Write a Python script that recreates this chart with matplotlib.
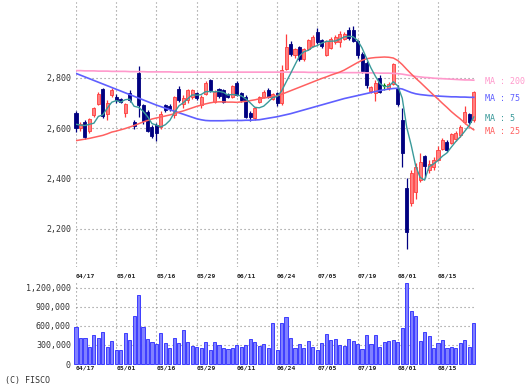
import numpy as np
import matplotlib
matplotlib.use('Agg')
import matplotlib.pyplot as plt

# ---------------- data ----------------
tick_idx = [0, 9, 18, 27, 36, 45, 54, 63, 72, 81]
tick_labels = ['04/17', '05/01', '05/16', '05/29', '06/11',
               '06/24', '07/05', '07/19', '08/01', '08/15']

opens = [2660, 2600, 2625, 2590, 2650, 2695, 2755, 2655, 2730, 2725,
         2715, 2660, 2740, 2625, 2818, 2690, 2665, 2605, 2612, 2605,
         2690, 2688, 2651, 2757, 2695, 2710, 2725, 2740, 2690, 2735,
         2790, 2705, 2755, 2750, 2735, 2725, 2778, 2740, 2725, 2660,
         2640, 2705, 2725, 2752, 2715, 2740, 2700, 2835, 2932, 2890,
         2920, 2875, 2915, 2925, 2980, 2950, 2890, 2918, 2940, 2940,
         2955, 2990, 2988, 2945, 2895, 2860, 2748, 2740, 2800, 2765,
         2760, 2775, 2760, 2632, 2362, 2302, 2345, 2395, 2490, 2435,
         2445, 2472, 2518, 2546, 2542, 2556, 2572, 2625, 2654, 2632]
highs = [2668, 2625, 2630, 2640, 2685, 2742, 2760, 2710, 2758, 2735,
         2720, 2700, 2750, 2630, 2848, 2695, 2670, 2612, 2620, 2668,
         2697, 2695, 2728, 2765, 2730, 2755, 2756, 2745, 2730, 2785,
         2795, 2750, 2760, 2755, 2740, 2770, 2785, 2745, 2730, 2668,
         2685, 2728, 2752, 2760, 2740, 2745, 2850, 2972, 2945, 2918,
         2925, 2918, 2955, 2970, 2998, 2955, 2950, 2960, 2968, 2985,
         2980, 3000, 3005, 2950, 2900, 2865, 2768, 2790, 2810, 2780,
         2782, 2860, 2772, 2680, 2400, 2435, 2460, 2500, 2495, 2475,
         2485, 2530, 2560, 2552, 2580, 2588, 2612, 2688, 2660, 2748]
lows = [2585, 2590, 2555, 2580, 2645, 2690, 2640, 2630, 2725, 2700,
        2700, 2645, 2705, 2598, 2645, 2618, 2583, 2562, 2550, 2595,
        2665, 2668, 2638, 2705, 2680, 2700, 2715, 2710, 2680, 2730,
        2745, 2698, 2720, 2700, 2720, 2720, 2728, 2705, 2640, 2628,
        2630, 2700, 2720, 2718, 2710, 2688, 2690, 2830, 2885, 2880,
        2865, 2868, 2910, 2920, 2935, 2918, 2885, 2912, 2935, 2920,
        2948, 2950, 2940, 2880, 2820, 2760, 2740, 2706, 2740, 2752,
        2752, 2770, 2688, 2446, 2121, 2290, 2320, 2385, 2400, 2420,
        2435, 2468, 2512, 2505, 2535, 2550, 2565, 2618, 2615, 2625]
closes = [2600, 2618, 2565, 2635, 2678, 2735, 2648, 2700, 2752, 2710,
          2705, 2695, 2712, 2610, 2690, 2628, 2590, 2570, 2580, 2655,
          2672, 2675, 2724, 2712, 2720, 2750, 2752, 2718, 2725, 2778,
          2752, 2745, 2727, 2705, 2725, 2765, 2732, 2712, 2645, 2645,
          2678, 2722, 2745, 2725, 2735, 2700, 2830, 2920, 2895, 2912,
          2875, 2912, 2950, 2960, 2940, 2925, 2945, 2955, 2962, 2975,
          2972, 2958, 2945, 2890, 2825, 2770, 2762, 2780, 2745, 2765,
          2775, 2855, 2695, 2502, 2188, 2420, 2445, 2465, 2448, 2458,
          2472, 2512, 2553, 2512, 2575, 2582, 2605, 2665, 2625, 2743]
prev_closes = [2633, 2575, 2610, 2657]

volumes = [576, 414, 414, 267, 456, 414, 498, 267, 362, 220,
           220, 482, 377, 760, 1085, 587, 398, 351, 320, 482,
           335, 246, 414, 325, 534, 340, 283, 272, 246, 351,
           220, 340, 293, 246, 231, 246, 299, 262, 299, 388,
           351, 283, 309, 257, 640, 220, 640, 744, 414, 246,
           314, 257, 362, 272, 220, 335, 466, 377, 388, 299,
           283, 388, 362, 314, 231, 456, 314, 456, 272, 351,
           362, 377, 351, 561, 1268, 833, 760, 367, 498, 440,
           246, 325, 377, 246, 272, 246, 325, 377, 272, 640]
volumes = [v * 1000 for v in volumes]

ma25 = [2550, 2553, 2556, 2559, 2563, 2567, 2571, 2577, 2584, 2588,
        2593, 2598, 2604, 2610, 2617, 2624, 2630, 2636, 2640, 2644,
        2648, 2652, 2657, 2663, 2668, 2674, 2680, 2686, 2691, 2696,
        2700, 2703, 2704, 2704, 2703, 2703, 2702, 2704, 2706, 2709,
        2712, 2716, 2719, 2722, 2725, 2728, 2734, 2741, 2748, 2755,
        2762, 2769, 2776, 2783, 2790, 2797, 2803, 2810, 2816, 2822,
        2830, 2840, 2850, 2860, 2869, 2875, 2878, 2880, 2881, 2882,
        2881, 2878, 2868, 2852, 2833, 2815, 2798, 2782, 2765, 2748,
        2731, 2715, 2698, 2682, 2665, 2650, 2636, 2620, 2605, 2593]
ma75 = [2817, 2810, 2803, 2796, 2789, 2782, 2775, 2768, 2761, 2754,
        2747, 2740, 2733, 2726, 2719, 2712, 2705, 2698, 2691, 2685,
        2679, 2673, 2667, 2661, 2655, 2649, 2643, 2637, 2633, 2630,
        2629, 2629, 2629, 2629, 2630, 2630, 2630, 2630, 2631, 2631,
        2632, 2633, 2636, 2639, 2642, 2645, 2649, 2653, 2657, 2662,
        2667, 2672, 2677, 2682, 2687, 2692, 2697, 2702, 2707, 2712,
        2717, 2721, 2725, 2729, 2733, 2737, 2741, 2745, 2749, 2752,
        2755, 2757, 2758, 2755, 2748, 2741, 2736, 2733, 2731, 2729,
        2728, 2727, 2726, 2725, 2724, 2724, 2723, 2723, 2722, 2722]
ma200 = [2828, 2828, 2827, 2827, 2827, 2826, 2826, 2826, 2825, 2825,
         2825, 2825, 2824, 2824, 2824, 2824, 2823, 2823, 2823, 2823,
         2823, 2823, 2822, 2822, 2822, 2822, 2822, 2822, 2822, 2822,
         2822, 2822, 2822, 2822, 2822, 2822, 2822, 2822, 2822, 2822,
         2822, 2822, 2822, 2822, 2822, 2822, 2822, 2822, 2822, 2822,
         2822, 2822, 2821, 2821, 2821, 2821, 2821, 2821, 2820, 2820,
         2820, 2820, 2820, 2820, 2820, 2819, 2819, 2819, 2818, 2818,
         2818, 2817, 2816, 2814, 2811, 2808, 2805, 2803, 2801, 2800,
         2798, 2797, 2796, 2795, 2794, 2793, 2792, 2791, 2791, 2790]

price_ticks = [2200, 2400, 2600, 2800]
vol_ticks = [0, 300000, 600000, 900000, 1200000]

# ---------------- styling ----------------
MONO = 'DejaVu Sans Mono'
UP_FILL, UP_EDGE = '#ff8080', '#ff3c3c'
DOWN = '#000080'
DOJI = '#008000'
C_MA5, C_MA25, C_MA75, C_MA200 = '#3a9a9a', '#ff6060', '#5f5fff', '#ff99cc'
GRID = dict(color='#8a8a8a', linewidth=0.8, linestyle=(0, (1, 2.6)))

W, H = 527, 388
fig = plt.figure(figsize=(W / 100, H / 100), dpi=100)
fig.patch.set_facecolor('white')

ax = fig.add_axes([76 / W, 1 - 266.6 / H, 400 / W, 264.5 / H])
axv = fig.add_axes([76 / W, 1 - 364 / H, 400 / W, 82.7 / H])

n = len(closes)
x = np.arange(n)
o = np.array(opens, float); c = np.array(closes, float)
hi = np.array(highs, float); lo = np.array(lows, float)

# MA5 from closes
call = np.array(prev_closes + closes, float)
ma5 = np.array([call[i:i + 5].mean() for i in range(n)])

for a in (ax, axv):
    a.set_xlim(0, 89.5)
    for s in a.spines.values():
        s.set_visible(False)
    a.set_xticks(tick_idx)
    a.grid(True, **GRID)
    a.set_axisbelow(True)
    a.tick_params(length=0)

ax.set_ylim(2050, 3100)
ax.set_yticks(price_ticks)
ax.set_yticklabels([f'{v:,}' for v in price_ticks], fontfamily=MONO,
                   fontsize=6, color='#333333')
ax.tick_params(axis='y', pad=3.6)
ax.set_xticklabels(tick_labels, fontfamily=MONO, fontsize=4.6,
                   color='#222222', ha='left', fontweight='bold')
ax.tick_params(axis='x', pad=5.0)

# candles
up = c > o
down = c < o
doji = c == o
wcol = np.where(up, UP_EDGE, np.where(down, DOWN, DOJI))
ax.vlines(x, lo, hi, colors=list(wcol), linewidth=0.9, zorder=2, clip_on=False)
bw = 0.68
ax.bar(x[up], (c - o)[up], bottom=o[up], width=bw, color=UP_FILL,
       edgecolor=UP_EDGE, linewidth=0.6, zorder=3, clip_on=False)
ax.bar(x[down], (c - o)[down], bottom=o[down], width=bw, color=DOWN,
       edgecolor=DOWN, linewidth=0.6, zorder=3, clip_on=False)
ax.hlines(c[doji], x[doji] - bw / 2, x[doji] + bw / 2, colors=DOJI,
          linewidth=1.2, zorder=3)

# moving averages
ax.plot(x, ma200, color=C_MA200, lw=1.2, zorder=4)
ax.plot(x, ma75, color=C_MA75, lw=1.2, zorder=4)
ax.plot(x, ma25, color=C_MA25, lw=1.1, zorder=5)
ax.plot(x, ma5, color=C_MA5, lw=1.0, zorder=6)

labels = [('MA : 200', ma200[-1], C_MA200), ('MA : 75', ma75[-1], C_MA75),
          ('MA : 5', ma5[-1], C_MA5), ('MA : 25', ma25[-1], C_MA25)]
for txt, val, col in labels:
    ax.annotate(txt, xy=(89.5, val), xytext=(6.5, -1.1),
                textcoords='offset points', ha='left', va='center',
                fontfamily=MONO, fontsize=6, color=col,
                annotation_clip=False)

# volume
axv.set_ylim(0, 1.3e6)
axv.set_yticks(vol_ticks)
axv.set_yticklabels([f'{v:,}' for v in vol_ticks], fontfamily=MONO,
                    fontsize=6, color='#333333')
axv.tick_params(axis='y', pad=3.6)
axv.set_xticklabels(tick_labels, fontfamily=MONO, fontsize=4.6,
                    color='#222222', ha='left', fontweight='bold')
axv.tick_params(axis='x', pad=0.8)
axv.bar(x, volumes, width=0.7, color='#8080ff', edgecolor='#3c3cff',
        linewidth=0.7, zorder=3, clip_on=False)

fig.text(5 / W, 1 - 380 / H, '(C) FISCO', fontfamily=MONO, fontsize=6,
         color='#333333', ha='left', va='center')

fig.savefig('out.png', dpi=100, facecolor='white')
